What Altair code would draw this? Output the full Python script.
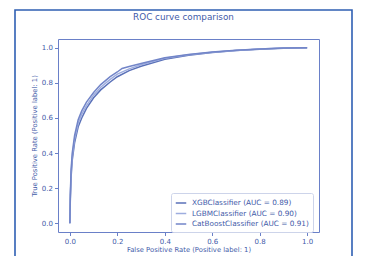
import altair as alt
import pandas as pd

chart_title = "ROC curve comparison"
models = ["XGBClassifier (AUC = 0.89)", "LGBMClassifier (AUC = 0.90)", "CatBoostClassifier (AUC = 0.91)"]
colors = ["#5a71b8", "#9eaddf", "#7285c8"]

xgb_fpr = [0, 0.002, 0.005, 0.01, 0.02, 0.035, 0.05, 0.07, 0.1, 0.13, 0.17, 0.2, 0.25, 0.3, 0.4, 0.5, 0.6, 0.7, 0.8, 0.9, 1.0]
xgb_tpr = [0, 0.14, 0.26, 0.36, 0.46, 0.55, 0.60, 0.655, 0.715, 0.76, 0.805, 0.835, 0.87, 0.895, 0.935, 0.957, 0.973, 0.984, 0.992, 0.997, 1.0]

lgbm_fpr = [0, 0.002, 0.005, 0.01, 0.02, 0.035, 0.05, 0.07, 0.1, 0.13, 0.17, 0.2, 0.25, 0.3, 0.4, 0.5, 0.6, 0.7, 0.8, 0.9, 1.0]
lgbm_tpr = [0, 0.15, 0.28, 0.38, 0.48, 0.57, 0.62, 0.67, 0.73, 0.775, 0.82, 0.85, 0.88, 0.903, 0.94, 0.96, 0.975, 0.985, 0.993, 0.998, 1.0]

cat_fpr = [0, 0.002, 0.005, 0.01, 0.02, 0.035, 0.05, 0.07, 0.1, 0.13, 0.17, 0.2, 0.22, 0.25, 0.3, 0.4, 0.5, 0.6, 0.7, 0.8, 0.9, 1.0]
cat_tpr = [0, 0.16, 0.30, 0.40, 0.50, 0.59, 0.64, 0.69, 0.745, 0.79, 0.835, 0.862, 0.882, 0.893, 0.91, 0.943, 0.962, 0.976, 0.986, 0.993, 0.998, 1.0]

rows = []
for name, fx, ty in zip(models, [xgb_fpr, lgbm_fpr, cat_fpr], [xgb_tpr, lgbm_tpr, cat_tpr]):
    for i, (a, b) in enumerate(zip(fx, ty)):
        rows.append({"model": name, "fpr": a, "tpr": b, "order": i})
df = pd.DataFrame(rows)

text_color = "#3f5ba9"
ticks = [0.0, 0.2, 0.4, 0.6, 0.8, 1.0]

lines = alt.Chart(df).mark_line(strokeWidth=1.5).encode(
    x=alt.X("fpr:Q", scale=alt.Scale(domain=[-0.05, 1.05], nice=False, zero=False),
            axis=alt.Axis(values=ticks, format=".1f", title="False Positive Rate (Positive label: 1)")),
    y=alt.Y("tpr:Q", scale=alt.Scale(domain=[-0.05, 1.05], nice=False, zero=False),
            axis=alt.Axis(values=ticks, format=".1f", title="True Positive Rate (Positive label: 1)")),
    color=alt.Color("model:N", sort=models,
                    scale=alt.Scale(domain=models, range=colors),
                    legend=alt.Legend(title=None, orient="none", legendX=113, legendY=154,
                                      symbolType="stroke", symbolSize=110, symbolStrokeWidth=1.5,
                                      labelFontSize=7.3, labelColor=text_color, labelLimit=300,
                                      strokeColor="#cdd4ea", fillColor="white", padding=4,
                                      rowPadding=0.5, labelOffset=5, cornerRadius=2)),
    order="order:Q",
)

frame = alt.Chart(pd.DataFrame({"a": [0]})).mark_rect(
    fill=None, stroke="#2f5fb3", strokeWidth=1.6
).encode(x=alt.value(-43), x2=alt.value(294), y=alt.value(-29), y2=alt.value(240))

title = alt.Chart(pd.DataFrame({"t": [chart_title]})).mark_text(
    fontSize=8.8, font="DejaVu Sans", color=text_color, align="center", baseline="alphabetic"
).encode(text="t:N", x=alt.value(125.5), y=alt.value(-19))

chart = alt.layer(frame, lines, title).properties(
    width=261, height=193,
    autosize=alt.AutoSizeParams(type="none"),
    padding={"left": 50, "top": 31, "right": 40, "bottom": 25},
).configure_view(stroke="#6a80c8", strokeWidth=1).configure_axis(
    labelFont="DejaVu Sans", titleFont="DejaVu Sans", labelFontSize=7, titleFontSize=6.8,
    labelColor=text_color, titleColor=text_color, titleFontWeight="normal",
    domain=False, grid=False, tickColor="#6a80c8", tickSize=3.5, labelPadding=2,
).configure_axisX(titlePadding=2).configure_axisY(titlePadding=4).configure_legend(
    labelFont="DejaVu Sans"
)

chart.save("out.html", embed_options={"renderer": "svg", "actions": False})
